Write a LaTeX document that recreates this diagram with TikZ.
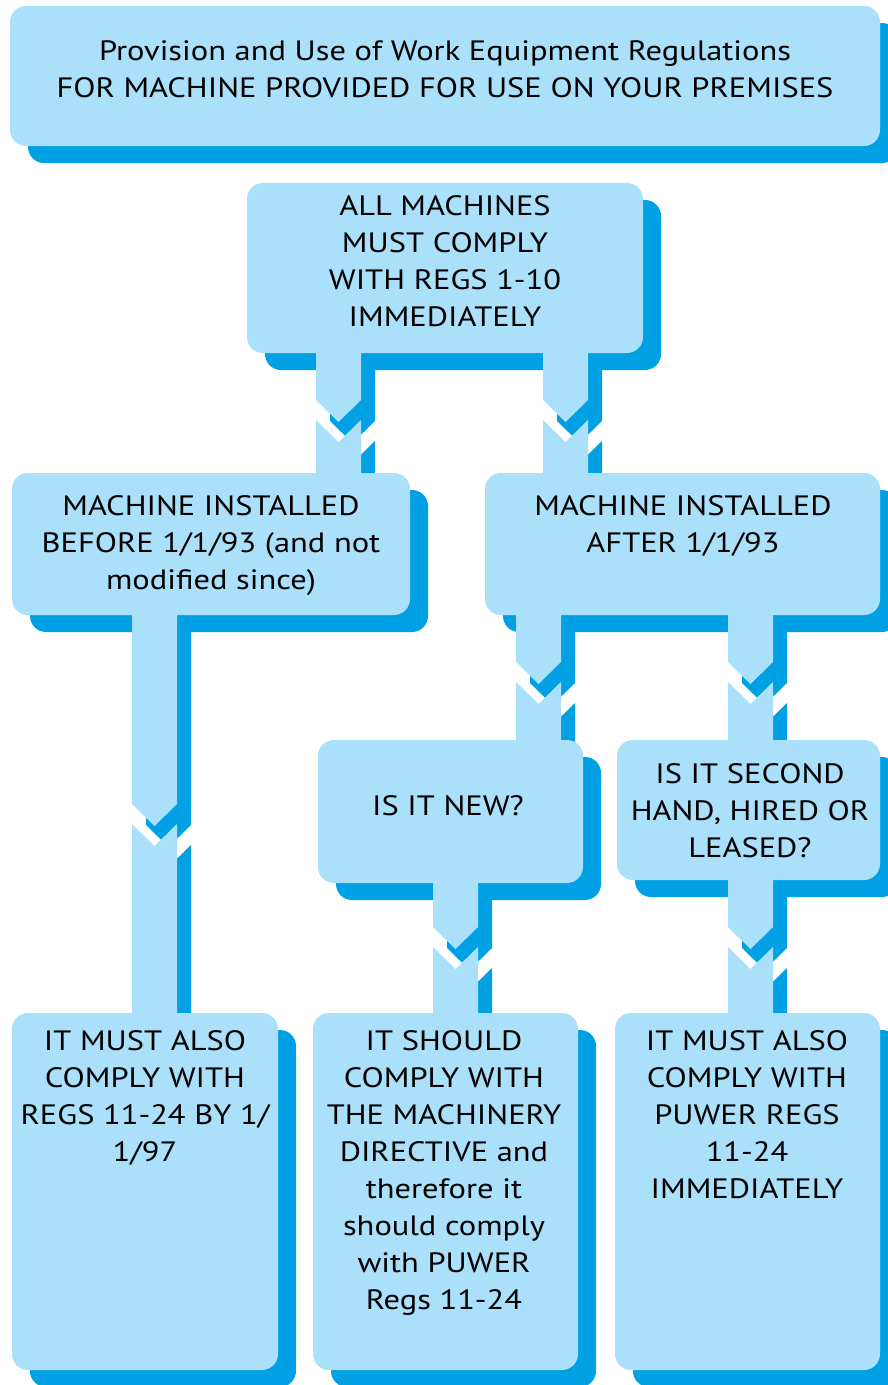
\documentclass[tikz,border=0pt]{standalone}
\usepackage{fontspec}
\setmainfont[FakeStretch=1.16]{PT Sans}
\definecolor{lightb}{RGB}{171,224,250}
\definecolor{darkb}{RGB}{0,161,228}
\newcommand\bxshadow[4]{\fill[shade] (#1+18,#2+17) rectangle (#3+18,#4+17);}
\newcommand\bxlight[5]{\node[box, minimum width={#4-#2}, minimum height={#5-#3}] (#1) at ({(#2+#4)/2},{(#3+#5)/2}) {};}
\newcommand\conn[5]{%
  \fill[#1] (#2,#3) -- (#2+45,#3) -- (#2+45,#4) -- (#2+22.5,#4+22) -- (#2,#4) -- cycle;
  \fill[#1] (#2,#4+20) -- (#2+22.5,#4+42) -- (#2+45,#4+20) -- (#2+45,#5) -- (#2,#5) -- cycle;}
\begin{document}
\begin{tikzpicture}[x=1pt,y=-1pt,
  box/.style={fill=lightb, rounded corners=16pt, draw=none, inner sep=0pt},
  shade/.style={fill=darkb, rounded corners=16pt},
  connshadow/.style={fill=darkb, shift={(14,21)}},
  connlight/.style={fill=lightb},
  txt/.style={anchor=north, align=center, inner sep=0pt, font=\fontsize{28}{37}\selectfont}]
\useasboundingbox (0,0) rectangle (888,1385);
% box shadows
\bxshadow{10}{6}{880}{146}
\bxshadow{247}{183}{643}{353}
\bxshadow{12}{473}{410}{615}
\bxshadow{485}{473}{880}{615}
\bxshadow{318}{740}{583}{883}
\bxshadow{617}{740}{880}{880}
\bxshadow{12}{1013}{278}{1370}
\bxshadow{313}{1013}{578}{1370}
\bxshadow{615}{1013}{880}{1370}
% connector shadows
\conn{connshadow}{316}{330}{400}{490}
\conn{connshadow}{543}{330}{400}{490}
\conn{connshadow}{132}{590}{804}{1030}
\conn{connshadow}{516}{590}{662}{760}
\conn{connshadow}{728}{590}{662}{760}
\conn{connshadow}{433}{860}{927}{1030}
\conn{connshadow}{728}{860}{927}{1030}
% connector lights
\conn{connlight}{316}{330}{400}{490}
\conn{connlight}{543}{330}{400}{490}
\conn{connlight}{132}{590}{804}{1030}
\conn{connlight}{516}{590}{662}{760}
\conn{connlight}{728}{590}{662}{760}
\conn{connlight}{433}{860}{927}{1030}
\conn{connlight}{728}{860}{927}{1030}
% box lights
\bxlight{b1}{10}{6}{880}{146}
\bxlight{b2}{247}{183}{643}{353}
\bxlight{b3}{12}{473}{410}{615}
\bxlight{b4}{485}{473}{880}{615}
\bxlight{b5}{318}{740}{583}{883}
\bxlight{b6}{617}{740}{880}{880}
\bxlight{b7}{12}{1013}{278}{1370}
\bxlight{b8}{313}{1013}{578}{1370}
\bxlight{b9}{615}{1013}{880}{1370}
% texts
\node[txt] (t1) at (445,40) {Provision and Use of Work Equipment Regulations\\FOR MACHINE PROVIDED FOR USE ON YOUR PREMISES};
\node[txt] (t2) at (445,195) {ALL MACHINES\\MUST COMPLY\\WITH REGS 1-10\\IMMEDIATELY};
\node[txt] (t3) at (211,495) {MACHINE INSTALLED\\BEFORE 1/1/93 (and not\\modified since)};
\node[txt] (t4) at (683,495) {MACHINE INSTALLED\\AFTER 1/1/93};
\node[txt] (t5) at (448,795) {IS IT NEW?};
\node[txt] (t6) at (750,763) {IS IT SECOND\\HAND, HIRED OR\\LEASED?};
\node[txt] (t7) at (145,1030) {IT MUST ALSO\\COMPLY WITH\\REGS 11-24 BY 1/\\1/97};
\node[txt] (t8) at (444,1030) {IT SHOULD\\COMPLY WITH\\THE MACHINERY\\DIRECTIVE and\\therefore it\\should comply\\with PUWER\\Regs 11-24};
\node[txt] (t9) at (747,1030) {IT MUST ALSO\\COMPLY WITH\\PUWER REGS\\11-24\\IMMEDIATELY};
\end{tikzpicture}
\end{document}
